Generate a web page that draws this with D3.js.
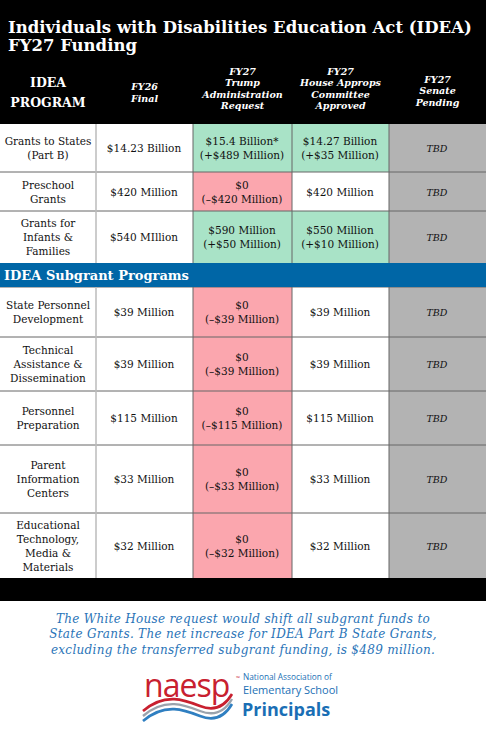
<!DOCTYPE html>
<html><head><meta charset="utf-8">
<script src="https://cdn.jsdelivr.net/npm/d3@7"></script>
<style>body{margin:0;background:#fff}svg{display:block}</style></head>
<body><svg id="c" width="486" height="733"></svg>
<script>
const programs=[["Grants to States","(Part B)"],["Preschool","Grants"],["Grants for","Infants &","Families"],["State Personnel","Development"],["Technical","Assistance &","Dissemination"],["Personnel","Preparation"],["Parent","Information","Centers"],["Educational","Technology,","Media &","Materials"]];
const fy26=["$14.23 Billion","$420 Million","$540 MIllion","$39 Million","$39 Million","$115 Million","$33 Million","$32 Million"];
const trump=[["$15.4 Billion*","(+$489 Million)"],["$0","(–$420 Million)"],["$590 Million","(+$50 Million)"],["$0","(–$39 Million)"],["$0","(–$39 Million)"],["$0","(–$115 Million)"],["$0","(–$33 Million)"],["$0","(–$32 Million)"]];
const trumpDir=["up","down","up","down","down","down","down","down"];
const house=[["$14.27 Billion","(+$35 Million)"],["$420 Million"],["$550 Million","(+$10 Million)"],["$39 Million"],["$39 Million"],["$115 Million"],["$33 Million"],["$32 Million"]];
const houseDir=["up","same","up","same","same","same","same","same"];
const senate=["TBD","TBD","TBD","TBD","TBD","TBD","TBD","TBD"];
const headers=[["FY26","Final"],["FY27","Trump","Administration","Request"],["FY27","House Approps","Committee","Approved"],["FY27","Senate","Pending"]];

const svg=d3.select("#c");
const F="'DejaVu Serif','Liberation Serif',serif";
const colX=[0,96,193,292,389,486];
const rowEdges=[124,172,211,263,287,337,391,445,513,578];
const rowsY=[[124,172],[172,211],[211,263],[287,337],[337,391],[391,445],[445,513],[513,578]];
const fill={up:"#a9e3c7",down:"#fba6ae",same:"#fff"};

svg.append("rect").attr("width",486).attr("height",124).attr("fill","#000");
svg.append("text").attr("x",8).attr("y",33).attr("fill","#fff").attr("font-family",F).attr("font-weight","bold").attr("font-size",16.5).text("Individuals with Disabilities Education Act (IDEA)");
svg.append("text").attr("x",8).attr("y",51).attr("fill","#fff").attr("font-family",F).attr("font-weight","bold").attr("font-size",16.5).text("FY27 Funding");
function lines(g,cx,cy,arr,lh,opts){
  const t=g.append("text").attr("text-anchor","middle").attr("font-family",F);
  Object.entries(opts).forEach(([k,v])=>t.attr(k,v));
  arr.forEach((s,i)=>t.append("tspan").attr("x",cx).attr("y",cy+(i-(arr.length-1)/2)*lh).text(s));
}
lines(svg,48,92,["IDEA","PROGRAM"],20,{fill:"#fff","font-weight":"bold","font-size":12.5,"dominant-baseline":"central"});
headers.forEach((h,i)=>{const cx=(colX[i+1]+colX[i+2])/2;
  lines(svg,cx,h.length===2?92:(h.length===3?90:88),h,11.5,{fill:"#fff","font-weight":"bold","font-style":"italic","font-size":9.5,"dominant-baseline":"central"});});

const g=svg.append("g");
rowsY.forEach(([y0,y1],r)=>{
  const cy=(y0+y1)/2,h=y1-y0;
  const cells=["#fff","#fff",fill[trumpDir[r]],fill[houseDir[r]],"#b3b3b3"];
  cells.forEach((c,i)=>g.append("rect").attr("x",colX[i]).attr("y",y0).attr("width",colX[i+1]-colX[i]).attr("height",h).attr("fill",c));
  lines(g,48,cy,programs[r],14,{fill:"#111","font-size":10.5,"dominant-baseline":"central"});
  lines(g,144,cy,[fy26[r]],14,{fill:"#111","font-size":10.5,"dominant-baseline":"central"});
  lines(g,242,cy,trump[r],14,{fill:"#111","font-size":10.5,"dominant-baseline":"central"});
  lines(g,340,cy,house[r],14,{fill:"#111","font-size":10.5,"dominant-baseline":"central"});
  lines(g,437,cy,[senate[r]],14,{fill:"#111","font-size":9.5,"font-style":"italic","dominant-baseline":"central"});
});
rowEdges.forEach(y=>{ if(y!==124&&y!==578&&y!==263) g.append("line").attr("x1",0).attr("x2",486).attr("y1",y).attr("y2",y).attr("stroke","#666").attr("stroke-width",1);});
[96,193,292,389].forEach((x,i)=>{[[124,263],[287,578]].forEach(([a,b])=>g.append("line").attr("x1",x).attr("x2",x).attr("y1",a).attr("y2",b).attr("stroke",i==0?"#bbb":"#666").attr("stroke-width",i==0?1.5:1));});
g.append("rect").attr("x",0).attr("y",263).attr("width",486).attr("height",24).attr("fill","#0066a6");
g.append("text").attr("x",4).attr("y",275).attr("dominant-baseline","central").attr("fill","#fff").attr("font-family",F).attr("font-weight","bold").attr("font-size",13).text("IDEA Subgrant Programs");
svg.append("rect").attr("x",0).attr("y",578).attr("width",486).attr("height",23).attr("fill","#000");

const note=["The White House request would shift all subgrant funds to","State Grants. The net increase for IDEA Part B State Grants,","excluding the transferred subgrant funding, is $489 million."];
lines(svg,243,634,note,15.5,{fill:"#2a74b8","font-style":"italic","font-size":12,"dominant-baseline":"central","letter-spacing":0.3});

// logo
const L=svg.append("g");
L.append("text").attr("x",144).attr("y",697).attr("font-family","'Open Sans', sans-serif").attr("font-size",32).attr("fill","#c8202f").attr("letter-spacing",-1).text("naesp");
L.append("text").attr("x",236).attr("y",680).attr("font-family","'Open Sans', sans-serif").attr("font-size",5).attr("fill","#c8202f").text("™");
[["#c8202f",0,2.6],["#9aa3ad",5,2.4],["#2f7fc1",10,2.6]].forEach(([c,dy,w])=>{
  L.append("path").attr("d",`M143,${711+dy} C165,${692+dy} 185,${700+dy} 200,${706+dy} S225,${706+dy} 232,${694+dy}`).attr("fill","none").attr("stroke",c).attr("stroke-width",w);
});
L.append("text").attr("x",243).attr("y",680).attr("font-family","'Open Sans', sans-serif").attr("font-size",8.3).attr("fill","#1a6fb5").text("National Association of");
L.append("text").attr("x",243).attr("y",694).attr("font-family","'Open Sans', sans-serif").attr("font-size",11).attr("fill","#1a6fb5").text("Elementary School");
L.append("text").attr("x",242).attr("y",716).attr("font-family","'Open Sans', sans-serif").attr("font-weight","bold").attr("font-size",18).attr("fill","#1a6fb5").text("Principals");
</script></body></html>
